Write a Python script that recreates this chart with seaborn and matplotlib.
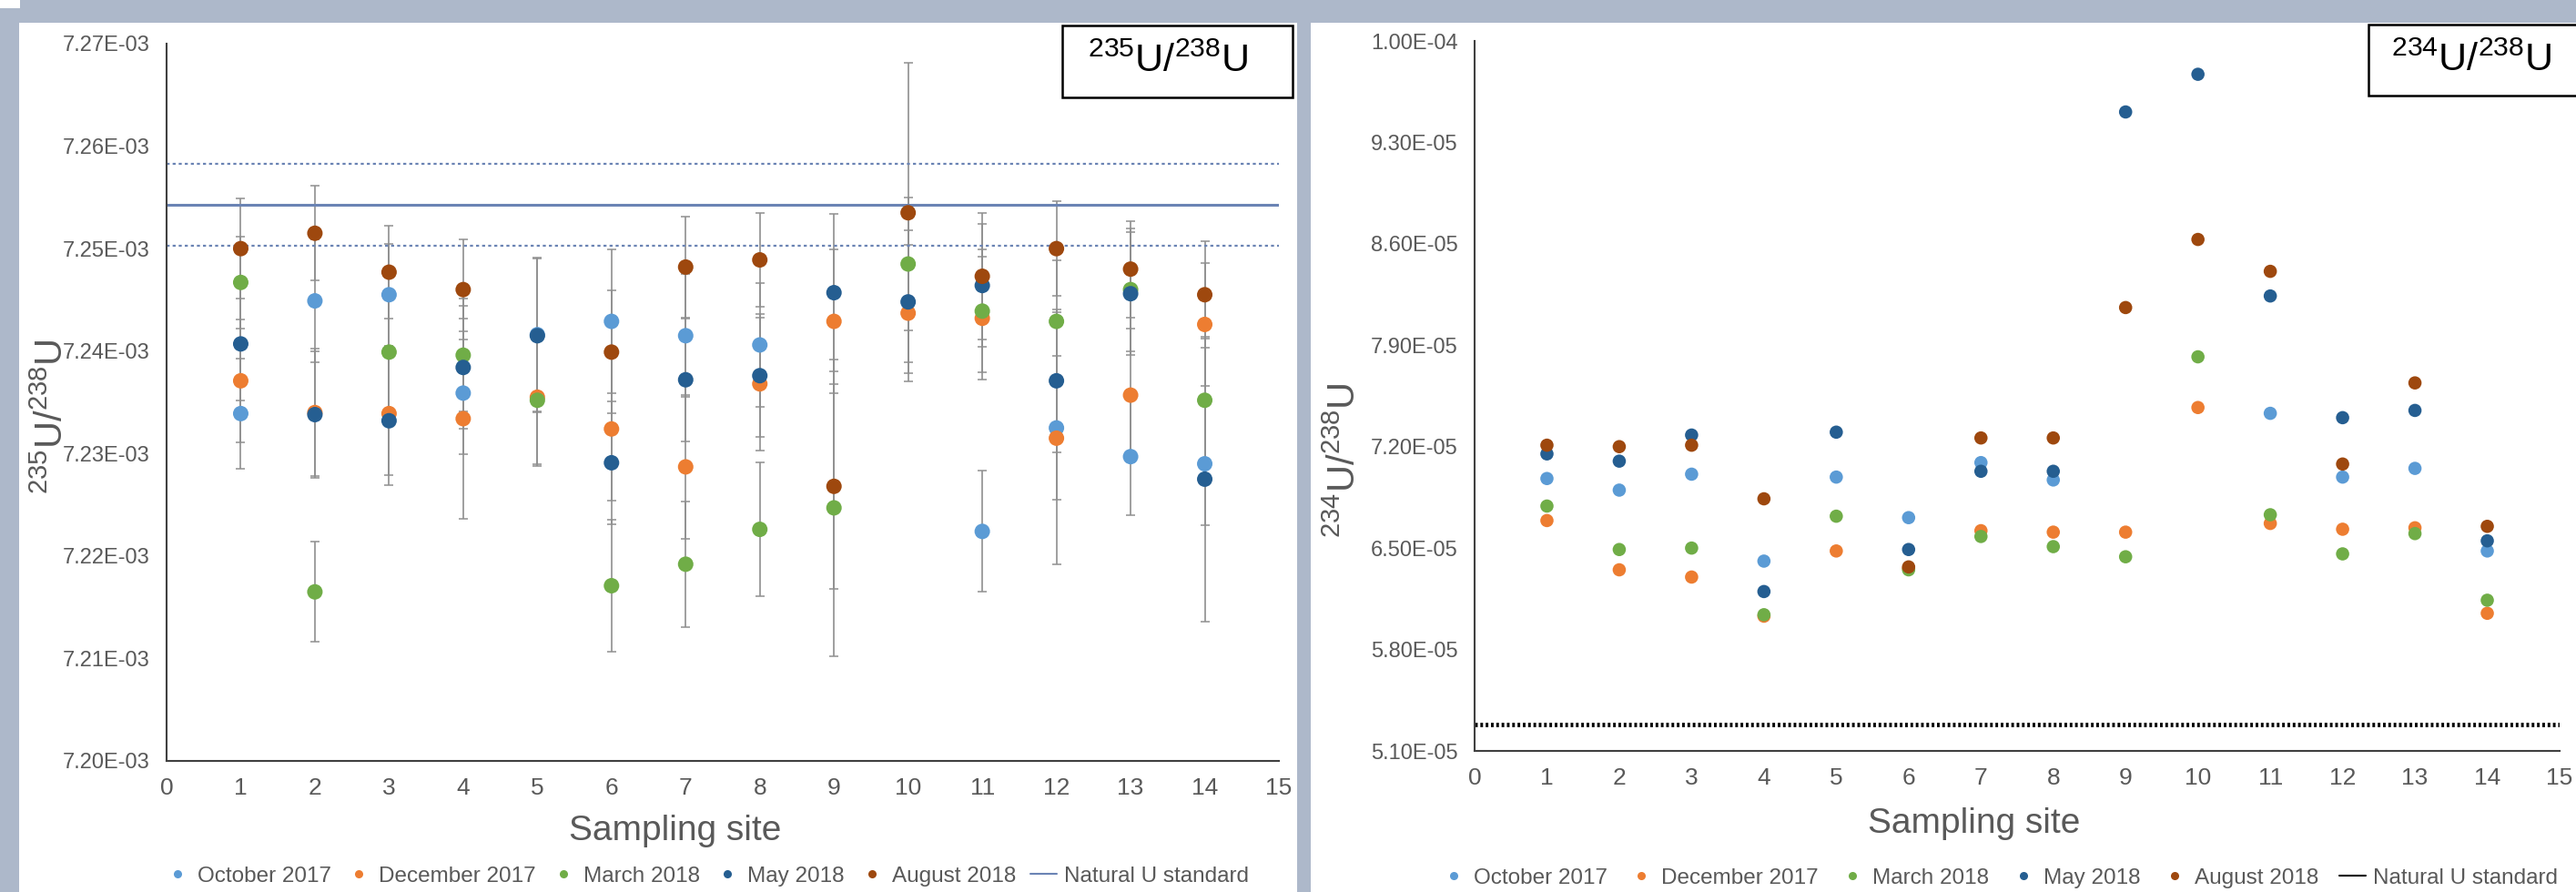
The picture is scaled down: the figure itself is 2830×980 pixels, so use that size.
import numpy as np
import pandas as pd
import matplotlib
matplotlib.use('Agg')
import matplotlib.pyplot as plt
from matplotlib.patches import Rectangle
from matplotlib.lines import Line2D
import seaborn as sns

nan = np.nan

# sampling sites and campaigns
sites = list(range(1, 15))
months = ['October 2017', 'December 2017', 'March 2018', 'May 2018', 'August 2018']
colors = ['#5B9BD5', '#ED7D31', '#70AD47', '#255E91', '#9E480E']

# 235U/238U ratio (x 1E-03)
u235_oct = [7.2339, 7.2449, 7.2455, 7.2359, 7.2416, 7.2429, 7.2415, 7.2406, nan, nan, 7.2224, 7.2325, 7.2297, 7.2290]
u235_dec = [7.2371, 7.2340, 7.2339, 7.2334, 7.2355, 7.2324, 7.2287, 7.2368, 7.2429, 7.2437, 7.2432, 7.2315, 7.2357, 7.2426]
u235_mar = [7.2467, 7.2165, 7.2399, 7.2396, 7.2352, 7.2171, 7.2192, 7.2226, 7.2247, 7.2485, 7.2439, 7.2429, 7.2460, 7.2352]
u235_may = [7.2407, 7.2338, 7.2332, 7.2384, 7.2415, 7.2291, 7.2372, 7.2376, 7.2457, 7.2448, 7.2464, 7.2371, 7.2456, 7.2275]
u235_aug = [7.2500, 7.2515, 7.2477, 7.2460, nan, 7.2399, 7.2482, 7.2489, 7.2268, 7.2535, 7.2473, 7.2500, 7.2480, 7.2455]

# uncertainties (x 1E-03)
err_oct = [0.0054, 0.0060, 0.0050, 0.0060, 0.0075, 0.0070, 0.0060, 0.0060, nan, nan, 0.0059, 0.0070, 0.0057, 0.0060]
err_dec = [0.0060, 0.0062, 0.0060, 0.0098, 0.0065, 0.0070, 0.0070, 0.0065, 0.0070, 0.0067, 0.0060, 0.0123, 0.0065, 0.0060]
err_mar = [0.0045, 0.0049, 0.0060, 0.0055, 0.0064, 0.0064, 0.0061, 0.0065, 0.0145, 0.0065, 0.0060, 0.0060, 0.0060, 0.0060]
err_may = [0.0055, 0.0062, 0.0063, 0.0060, 0.0075, 0.0060, 0.0060, 0.0060, 0.0077, 0.0070, 0.0060, 0.0070, 0.0060, 0.0139]
err_aug = [0.0049, 0.0046, 0.0045, 0.0049, nan, 0.0060, 0.0049, 0.0046, 0.0100, 0.0146, 0.0062, 0.0046, 0.0047, 0.0052]

# 234U/238U ratio (x 1E-05)
u234_oct = [6.98, 6.90, 7.01, 6.41, 6.99, 6.71, 7.09, 6.97, nan, nan, 7.43, 6.99, 7.05, 6.48]
u234_dec = [6.69, 6.35, 6.30, 6.03, 6.48, 6.36, 6.62, 6.61, 6.61, 7.47, 6.67, 6.63, 6.64, 6.05]
u234_mar = [6.79, 6.49, 6.50, 6.04, 6.72, 6.35, 6.58, 6.51, 6.44, 7.82, 6.73, 6.46, 6.60, 6.14]
u234_may = [7.15, 7.10, 7.28, 6.20, 7.30, 6.49, 7.03, 7.03, 9.51, 9.77, 8.24, 7.40, 7.45, 6.55]
u234_aug = [7.21, 7.20, 7.21, 6.84, nan, 6.37, 7.26, 7.26, 8.16, 8.63, 8.41, 7.08, 7.64, 6.65]

# natural uranium standard
nat_235 = 7.2543e-3
nat_235_err = 0.0040e-3
nat_234 = 5.28e-5

left_ticks = [7.20e-3, 7.21e-3, 7.22e-3, 7.23e-3, 7.24e-3, 7.25e-3, 7.26e-3, 7.27e-3]
right_ticks = [5.1e-5, 5.8e-5, 6.5e-5, 7.2e-5, 7.9e-5, 8.6e-5, 9.3e-5, 1.0e-4]


def long_table(series, scale):
    df = pd.DataFrame({m: s for m, s in zip(months, series)})
    df['site'] = sites
    df = df.melt(id_vars='site', var_name='month', value_name='ratio')
    df['ratio'] = df['ratio'] * scale
    return df.dropna()


u235 = [u235_oct, u235_dec, u235_mar, u235_may, u235_aug]
u235_err = [err_oct, err_dec, err_mar, err_may, err_aug]
u234 = [u234_oct, u234_dec, u234_mar, u234_may, u234_aug]
df235 = long_table(u235, 1e-3)
df234 = long_table(u234, 1e-5)

sns.set_style('white')
plt.rcParams['font.family'] = ['Liberation Sans', 'DejaVu Sans']
plt.rcParams['mathtext.fontset'] = 'custom'
plt.rcParams['mathtext.rm'] = 'Liberation Sans'
plt.rcParams['mathtext.it'] = 'Liberation Sans:italic'

W, H = 2830, 980
fig = plt.figure(figsize=(W / 100, H / 100), dpi=100, facecolor='#adb8ca')

# white panels
fig.add_artist(Rectangle((21 / W, 0), 1404 / W, 1 - 25 / H, transform=fig.transFigure,
                         facecolor='white', edgecolor='none', zorder=-2))
fig.add_artist(Rectangle((1440 / W, 0), 1390 / W, 1 - 25 / H, transform=fig.transFigure,
                         facecolor='white', edgecolor='none', zorder=-2))
fig.add_artist(Rectangle((0, 1 - 9 / H), 22 / W, 9 / H, transform=fig.transFigure,
                         facecolor='white', edgecolor='none', zorder=-2))

ax1 = fig.add_axes([183 / W, 1 - 836 / H, 1222 / W, 788 / H])
ax2 = fig.add_axes([1620 / W, 1 - 825 / H, 1192 / W, 780 / H])

grey = '#595959'

# ---- left panel: 235U/238U
for vals, errs in zip(u235, u235_err):
    ax1.errorbar(sites, np.array(vals) * 1e-3, yerr=np.array(errs) * 1e-3, fmt='none',
                 ecolor='#8f8f8f', elinewidth=1.2, capsize=3.5, capthick=1.1, zorder=1)
ax1.axhline(nat_235, color='#6b84b4', lw=2.2, zorder=2)
ax1.axhline(nat_235 + nat_235_err, color='#6b84b4', lw=1.6, ls=(0, (1.5, 1.5)), zorder=2)
ax1.axhline(nat_235 - nat_235_err, color='#6b84b4', lw=1.6, ls=(0, (1.5, 1.5)), zorder=2)
sns.scatterplot(data=df235, x='site', y='ratio', hue='month', hue_order=months,
                palette=colors, s=150, linewidth=0, legend=False, ax=ax1, zorder=3)
ax1.set_ylim(7.20e-3, 7.27e-3)
ax1.set_yticks(left_ticks)
ax1.set_ylabel(r'$^{235}$U/$^{238}$U', fontsize=30, color=grey)
ax1.yaxis.set_label_coords(-0.086, 0.48)

# ---- right panel: 234U/238U
ax2.axhline(nat_234, color='black', lw=3.5, ls=(0, (0.6, 0.6)), zorder=2)
sns.scatterplot(data=df234, x='site', y='ratio', hue='month', hue_order=months,
                palette=colors, s=110, linewidth=0, legend=False, ax=ax2, zorder=3)
ax2.set_ylim(5.1e-5, 1.0e-4)
ax2.set_yticks(right_ticks)
ax2.set_ylabel(r'$^{234}$U/$^{238}$U', fontsize=30, color=grey)
ax2.yaxis.set_label_coords(-0.102, 0.41)

for ax in (ax1, ax2):
    ax.set_facecolor('none')
    ax.set_xlim(0, 15)
    ax.set_xticks(range(0, 16))
    ax.set_yticklabels(['%.2E' % t for t in ax.get_yticks()])
    ax.set_xlabel('Sampling site', fontsize=28, color=grey)
    ax.tick_params(axis='both', direction='inout', length=14, width=1.5,
                   color='#404040', labelcolor=grey, labelsize=17, pad=6)
    ax.tick_params(axis='x', labelsize=19)
    for side in ('top', 'right'):
        ax.spines[side].set_visible(False)
    for side in ('left', 'bottom'):
        ax.spines[side].set_color('#404040')
        ax.spines[side].set_linewidth(1.5)
ax1.xaxis.set_label_coords(0.457, -0.075)
ax2.xaxis.set_label_coords(0.46, -0.079)


def legend_handles(line_color):
    hs = [Line2D([], [], ls='none', marker='o', markersize=6.5, color=c, markeredgewidth=0)
          for c in colors]
    hs.append(Line2D([], [], color=line_color, lw=1.5))
    return hs


labels = months + ['Natural U standard']
ax1.legend(legend_handles('#6b84b4'), labels, ncol=6, loc='center left',
           bbox_to_anchor=(-0.012, -0.161), frameon=False, fontsize=17.5,
           handlelength=1.2, handletextpad=0.3, columnspacing=0.65, borderpad=0,
           labelcolor=grey)
ax2.legend(legend_handles('black'), labels, ncol=6, loc='center left',
           bbox_to_anchor=(-0.042, -0.179), frameon=False, fontsize=17.5,
           handlelength=1.2, handletextpad=0.3, columnspacing=0.95, borderpad=0,
           labelcolor=grey)

# title boxes
fig.add_artist(Rectangle((1167 / W, 1 - 107 / H), 253 / W, 79 / H, transform=fig.transFigure,
                         facecolor='white', edgecolor='black', lw=1.8, zorder=5))
fig.text(1283 / W, 1 - 68 / H, r'$^{235}$U/$^{238}$U', fontsize=31, ha='center', va='center',
         color='black', zorder=6)
fig.add_artist(Rectangle((2602 / W, 1 - 105 / H), 240 / W, 78 / H, transform=fig.transFigure,
                         facecolor='white', edgecolor='black', lw=1.8, zorder=5))
fig.text(2715 / W, 1 - 67 / H, r'$^{234}$U/$^{238}$U', fontsize=31, ha='center', va='center',
         color='black', zorder=6)

plt.savefig('out.png', dpi=100, facecolor=fig.get_facecolor())
